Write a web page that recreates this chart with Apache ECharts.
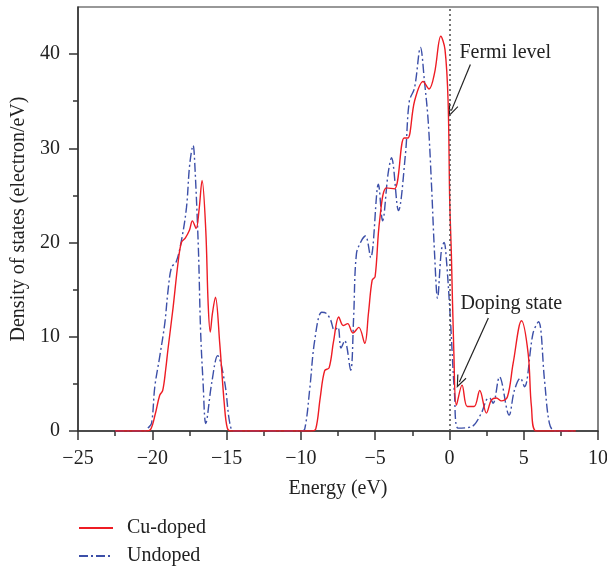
<!DOCTYPE html>
<html>
<head>
<meta charset="utf-8">
<script src="https://cdn.jsdelivr.net/npm/echarts@6/dist/echarts.min.js"></script>
<style>
  html, body { margin: 0; padding: 0; background: #fff; }
  #chart { width: 607px; height: 566px; }
</style>
</head>
<body>
<div id="chart"></div>
<script>
// values
const cuEnergy = [-22.5, -20.4, -20.1, -19.8, -19.5, -19.3, -19.1, -18.95, -18.6, -18.27, -18.04, -17.77, -17.5, -17.3, -17.05, -16.85, -16.65, -16.4, -16.24, -16.1, -15.95, -15.75, -15.46, -15.16, -14.95, -14.7,
  -9.3, -9.0, -8.7, -8.4, -8.1, -7.8, -7.45, -7.15, -6.85, -6.5, -6.1, -5.7, -5.45, -5.2, -5.0, -4.7, -4.24, -3.7, -3.05, -2.8, -2.35, -1.77, -1.37, -1.0, -0.58, -0.3, -0.09, 0.02, 0.13, 0.3, 0.47,
  0.85, 1.2, 1.66, 2.04, 2.49, 2.83, 3.16, 3.5, 3.9, 4.29, 4.85, 5.3, 5.52, 5.85, 8.5]
const cuDos = [0, 0, 0.2, 1.8, 3.8, 4.3, 6.5, 8.6, 13.1, 17.8, 20.0, 20.5, 21.3, 22.3, 21.5, 23.5, 26.6, 21.3, 13.5, 10.5, 12.5, 14.2, 9.3, 3.0, 0.3, 0,
  0, 0.2, 3.5, 6.4, 6.7, 9.5, 12.1, 11.2, 11.4, 10.4, 11.0, 9.3, 12.5, 16.0, 16.4, 22.3, 25.8, 25.7, 31.1, 31.1, 35.0, 37.1, 36.3, 38.0, 41.9, 40.5, 35.0, 24.4, 18.8, 8.2, 2.75,
  4.87, 2.6, 2.6, 4.3, 1.9, 3.3, 3.5, 3.2, 3.6, 7.2, 11.7, 8.2, 2.6, 0, 0]

const unEnergy = [-22.5, -20.5, -20.3, -20.05, -19.83, -19.5, -19.16, -18.94, -18.7, -18.4, -18.04, -17.7, -17.48, -17.25, -17.16, -16.9, -16.75, -16.58, -16.4, -16.0, -15.6, -15.12, -14.78, -14.5,
  -10.0, -9.74, -9.4, -9.07, -8.6, -8.3, -8.0, -7.74, -7.5, -7.3, -7.05, -6.65, -6.45, -6.26, -5.92, -5.65, -5.3, -4.78, -4.5, -4.13, -3.9, -3.43, -2.96, -2.7, -2.35, -1.95, -1.68, -1.43, -1.2, -1.0, -0.8, -0.54, -0.36, -0.2, 0.07, 0.34, 0.58,
  1.48, 2.15, 2.49, 2.7, 2.94, 3.37, 4.02, 4.37, 4.78, 5.05, 5.63, 6.0, 6.4, 6.73, 7.1, 8.5]
const unDos = [0, 0, 0.3, 0.8, 4.7, 7.9, 11.4, 14.9, 17.4, 17.9, 20.2, 23.7, 28.3, 30.3, 29.0, 19.5, 10.7, 5.1, 0.8, 5.1, 8.0, 5.1, 0.8, 0,
  0, 0.2, 4.5, 9.6, 12.6, 12.5, 11.8, 10.7, 11.0, 8.8, 9.6, 6.45, 12.0, 18.8, 20.2, 20.7, 18.4, 26.2, 22.3, 27.3, 29.0, 23.4, 29.4, 35.0, 36.4, 40.7, 37.1, 32.9, 25.9, 18.8, 14.1, 19.2, 20.0, 18.1, 11.7, 4.0, 0.3,
  0.45, 1.9, 3.3, 3.5, 2.95, 5.75, 1.7, 4.3, 5.6, 4.7, 10.4, 11.6, 5.4, 0.8, 0, 0]

const yTicks = [0, 10, 20, 30, 40]
const yMinorTicks = [5, 15, 25, 35]
const seriesNames = ['Cu-doped', 'Undoped']

const FONT = 'Liberation Serif'
const INK = '#222'
const AXIS = '#333'

const zip = (xs, ys) => xs.map((x, i) => [x, ys[i]])
const minus = v => String(v).replace('-', '\u2212')

// open arrow head (tip up, ECharts rotates it along the line)
const arrowHead = 'path://M0,0 L5,12 L4,12.6 L0,3 L-4,12.6 L-5,12 Z'

const chart = echarts.init(document.getElementById('chart'))

const yBase = {
  type: 'value', min: 0, max: 45, position: 'left',
  axisLine: { show: false, onZero: false },
  splitLine: { show: false },
}

chart.setOption({
  animation: false,
  textStyle: { fontFamily: FONT, color: INK },
  grid: {
    left: 78, right: 9, top: 7, bottom: 135,
    outerBoundsMode: 'none',
    show: true, borderColor: AXIS, borderWidth: 1.2,
  },
  legend: {
    data: seriesNames,
    orient: 'vertical',
    left: 78, top: 518,
    padding: 0,
    itemWidth: 34, itemHeight: 14, itemGap: 8,
    itemStyle: { opacity: 0 },
    textStyle: { fontFamily: FONT, fontSize: 20, color: INK, padding: [0, 0, 0, 9] },
  },
  xAxis: {
    type: 'value', min: -25, max: 10, interval: 5,
    name: 'Energy (eV)', nameLocation: 'middle', nameGap: 48,
    nameTextStyle: { fontFamily: FONT, fontSize: 20, color: INK },
    axisLine: { lineStyle: { color: AXIS, width: 1.5 } },
    axisTick: { length: 9, lineStyle: { color: AXIS, width: 1.5 } },
    minorTick: { show: true, splitNumber: 2, length: 5, lineStyle: { color: AXIS, width: 1.5 } },
    axisLabel: { margin: 18, fontFamily: FONT, fontSize: 20, color: INK, formatter: minus },
    splitLine: { show: false },
    minorSplitLine: { show: false },
  },
  yAxis: [
    Object.assign({}, yBase, {
      name: 'Density of states (electron/eV)', nameLocation: 'middle', nameGap: 48,
      nameTextStyle: { fontFamily: FONT, fontSize: 20, color: INK },
      axisLine: { show: true, onZero: false, lineStyle: { color: AXIS, width: 1.5 } },
      axisTick: { length: 9, customValues: yTicks, lineStyle: { color: AXIS, width: 1.5 } },
      axisLabel: { margin: 18, customValues: yTicks, fontFamily: FONT, fontSize: 20, color: INK },
    }),
    Object.assign({}, yBase, {
      axisTick: { length: 5, customValues: yMinorTicks, lineStyle: { color: AXIS, width: 1.5 } },
      axisLabel: { show: false },
    }),
  ],
  series: [
    {
      name: seriesNames[0], type: 'line', data: zip(cuEnergy, cuDos),
      smooth: 0.35, symbol: 'none', z: 3,
      color: '#ee1c24',
      lineStyle: { color: '#ee1c24', width: 1.4 },
      markLine: {
        silent: true, animation: false,
        symbol: ['none', arrowHead], symbolSize: [10, 13],
        label: { show: false },
        lineStyle: { color: INK, width: 1.2, type: 'solid' },
        data: [
          [{ coord: [1.41, 38.9] }, { coord: [0.13, 34.0] }],
          [{ coord: [2.62, 12.0] }, { coord: [0.67, 5.2] }],
          // Fermi level
          [{ coord: [0, 0], symbol: 'none', lineStyle: { type: [2, 3], color: '#555', width: 1.6 } },
           { coord: [0, 45], symbol: 'none' }],
        ],
      },
      markPoint: {
        silent: true, symbol: 'circle', symbolSize: 0,
        label: { show: true, position: 'right', distance: 0, fontFamily: FONT, fontSize: 20, color: INK },
        data: [
          { coord: [0.67, 40.1], label: { formatter: 'Fermi level' } },
          { coord: [0.74, 13.5], label: { formatter: 'Doping state' } },
        ],
      },
    },
    {
      name: seriesNames[1], type: 'line', data: zip(unEnergy, unDos),
      smooth: 0.35, symbol: 'none', z: 2,
      color: '#3c4fa8',
      lineStyle: { color: '#3c4fa8', width: 1.4, type: [9, 3, 2, 3] },
    },
  ],
})
</script>
</body>
</html>
